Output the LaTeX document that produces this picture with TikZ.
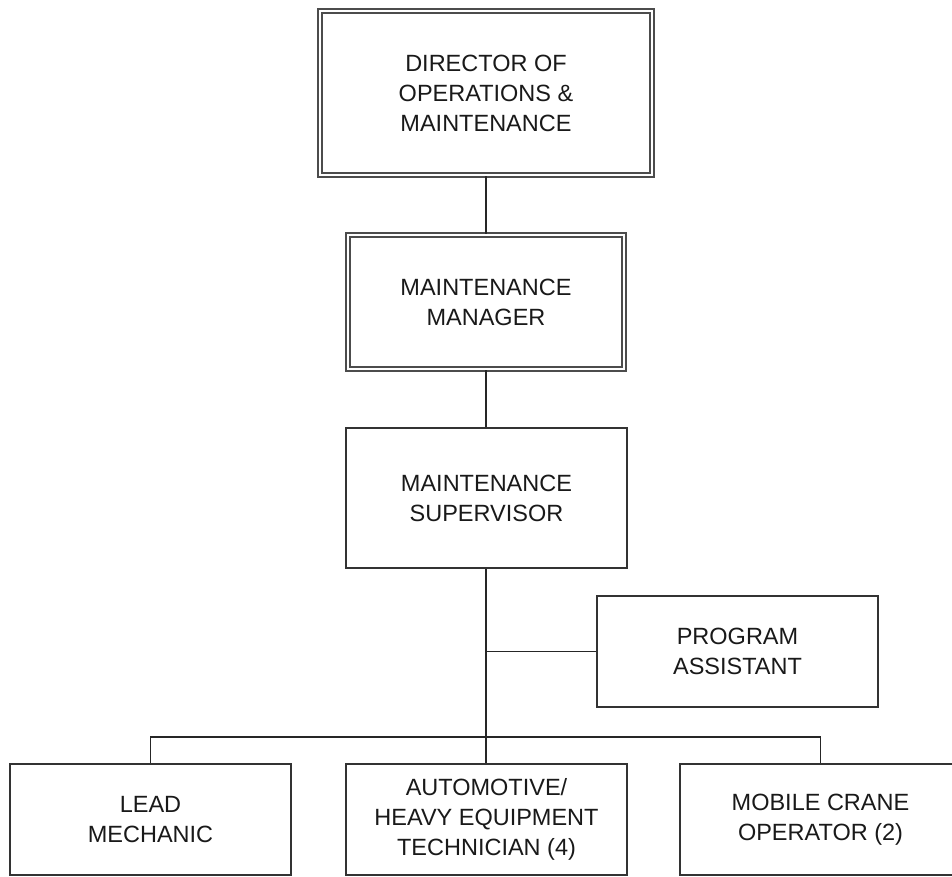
\documentclass[tikz,border=0pt]{standalone}
\usepackage{fontspec}
\setmainfont{Liberation Sans}
\begin{document}
\begin{tikzpicture}[x=1pt,y=-1pt,
  txt/.style={align=center,font=\fontsize{23.5}{30}\selectfont,text=black!90},
  box/.style={txt,draw=black!80,line width=2pt,inner sep=0pt},
  dbox/.style={txt,draw=black!70,line width=2pt,double=white,double distance=2.5pt,inner sep=0pt},
  conn/.style={draw=black!85,line width=1.6pt}]
\useasboundingbox (0,0) rectangle (952,876);
\clip (0,0) rectangle (952,876);
\node[dbox,minimum width=332,minimum height=164] (dir) at (486,93) {DIRECTOR OF\\OPERATIONS \&\\MAINTENANCE};
\node[dbox,minimum width=276,minimum height=134] (mgr) at (486,302) {MAINTENANCE\\MANAGER};
\node[box,minimum width=281,minimum height=140] (sup) at (486.5,498) {MAINTENANCE\\SUPERVISOR};
\node[box,minimum width=281,minimum height=111] (pa) at (737.5,651.5) {PROGRAM\\ASSISTANT};
\node[box,minimum width=281,minimum height=111] (lead) at (150.5,819.5) {LEAD\\MECHANIC};
\node[box,minimum width=281,minimum height=111] (auto) at (486.5,819.5) {AUTOMOTIVE/\\HEAVY EQUIPMENT\\TECHNICIAN (4)};
\node[box,minimum width=281,minimum height=111] (mob) at (820.5,819.5) {MOBILE CRANE\\OPERATOR (2)};
\coordinate (j1) at (486,651.5);
\coordinate (bar) at (486,737);
\draw[conn] (dir.south -| j1) -- (mgr.north -| j1);
\draw[conn] (mgr.south -| j1) -- (sup.north -| j1);
\draw[conn] (sup.south -| j1) -- (auto.north -| j1);
\draw[conn] (j1) -- (pa.west);
\draw[conn] (lead.north) |- (bar) -| (mob.north);
\end{tikzpicture}
\end{document}
